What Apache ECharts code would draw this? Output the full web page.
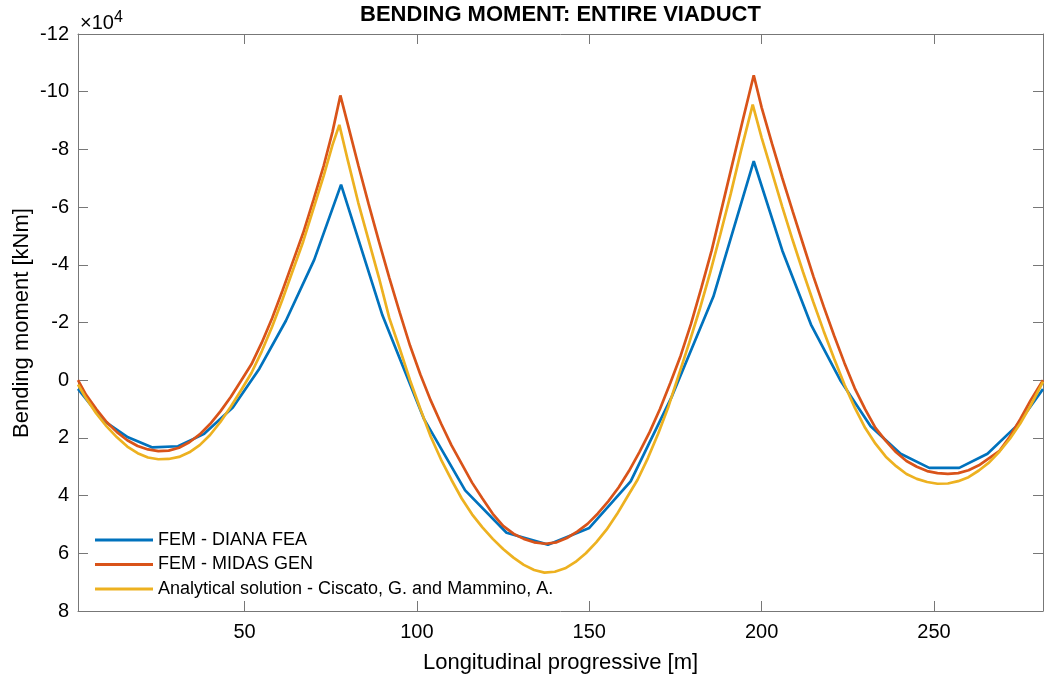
<!DOCTYPE html>
<html>
<head>
<meta charset="utf-8">
<script src="https://cdn.jsdelivr.net/npm/echarts@6/dist/echarts.min.js"></script>
<style>
html,body{margin:0;padding:0;background:#fff;}
#chart{width:1044px;height:676px;}
</style>
</head>
<body>
<div id="chart"></div>
<script>
// ---- Data (bending moment in kNm, position in m) ----
const dianaX = [1.7, 9.0, 16.2, 23.3, 30.7, 38.3, 46.6, 54.3, 62.0, 70.2, 78.0, 90.0, 102.0, 114.0, 126.0, 138.0, 150.0, 162.0, 174.0, 186.0, 197.7, 206.0, 214.3, 222.8, 231.6, 240.3, 248.6, 257.3, 265.5, 273.8, 281.6];
const dianaM = [3000, 13900, 19800, 23300, 22900, 18600, 9500, -4000, -20600, -41700, -67800, -22500, 13300, 38200, 52900, 57000, 51200, 35100, 5500, -29000, -75900, -44900, -19300, 0, 16000, 25500, 30400, 30400, 25500, 16000, 3100];

const midasX = [1.7, 4, 7, 10, 13, 16, 19, 22, 25, 28, 31, 34, 37, 40, 43, 46, 49, 52, 55, 58, 61, 64, 67, 70, 73, 75.5, 77.8,
  80, 83, 86, 89, 92, 95, 98, 101, 104, 107, 110, 113, 116, 119, 122, 125, 128, 131, 134, 137.3, 140.5, 143.5, 146.5, 149.5, 152.5, 155.5, 158.5, 161.5, 164.5, 167.5, 170.5, 173.5, 176.5, 179.5, 182.5, 185.5, 188.5, 191.5, 194.5, 197.7,
  200, 203, 206, 209, 212, 215, 218, 221, 224, 227, 230, 233, 236, 239, 242, 245, 248, 251, 254, 257, 260, 263, 266, 269, 272, 275, 278, 281.6];
const midasM = [0, 5000, 10000, 14500, 18000, 20800, 22800, 24000, 24600, 24400, 23400, 21500, 18800, 15200, 10800, 5800, 200, -5500, -13000, -21500, -31000, -41000, -51000, -62500, -74500, -86000, -98700,
  -88500, -74500, -61000, -48000, -35500, -23500, -12000, -2000, 7000, 15000, 22500, 29000, 35500, 41000, 46300, 50500, 53200, 55000, 56200, 56700, 56200, 54700, 52500, 49800, 46200, 42000, 37200, 31500, 25000, 18000, 10000, 1000, -8500, -19500, -32000, -45000, -60000, -75000, -90000, -105700,
  -94500, -82000, -70000, -58500, -47200, -36000, -25500, -15500, -6000, 2800, 10000, 16500, 21000, 25000, 28000, 30000, 31500, 32200, 32500, 32200, 31200, 29500, 27000, 24500, 19500, 13500, 7000, 0];

const analyticalX = [1.7, 4, 7, 10, 13, 16, 19, 22, 25, 28, 31, 34, 37, 40, 43, 46, 49, 52, 55, 58, 61, 64, 67, 70, 73, 75.5, 77.5,
  80, 83, 86, 89, 92, 95, 98, 101, 104, 107, 110, 113, 116, 119, 122, 125, 128, 131, 134, 137, 140, 143, 146, 149, 152, 155, 158, 161, 164, 167, 170, 173, 176, 179, 182, 185, 188, 191, 194, 197.4,
  200, 203, 206, 209, 212, 215, 218, 221, 224, 227, 230, 233, 236, 239, 242, 245, 248, 251, 254, 257, 260, 263, 266, 269, 272, 275, 278, 281.6];
const analyticalM = [1500, 6200, 11500, 16000, 19800, 23000, 25300, 26800, 27400, 27300, 26600, 25000, 22500, 19000, 14500, 9200, 3500, -2500, -10000, -18500, -28000, -38000, -48000, -59500, -71000, -81500, -88500,
  -76000, -61500, -48500, -35500, -21500, -11000, 0, 10000, 19500, 27500, 34500, 41000, 46500, 51000, 55000, 58500, 61500, 64000, 65800, 66700, 66400, 65200, 63000, 60000, 56200, 51800, 46500, 40500, 34500, 27000, 18500, 9000, -2000, -13000, -24500, -37000, -50500, -64500, -79500, -95500,
  -84000, -72000, -60000, -48500, -37500, -27000, -17000, -7500, 1500, 9500, 16500, 22000, 26500, 29800, 32500, 34200, 35300, 35900, 35800, 35000, 33600, 31300, 28500, 24700, 20300, 15000, 8800, 500];

const seriesNames = ['FEM - DIANA FEA', 'FEM - MIDAS GEN', 'Analytical solution - Ciscato, G. and Mammino, A.'];
const yTicks = [-120000, -100000, -80000, -60000, -40000, -20000, 0, 20000, 40000, 60000, 80000];

function pairs(xs, ys) { return xs.map((x, i) => [x, ys[i]]); }

const FONT = '"Liberation Sans", Arial, Helvetica, sans-serif';
const axisColor = '#777777';
const xMin = 1.7, xMax = 281.6;

const chart = echarts.init(document.getElementById('chart'), null, {renderer: 'canvas'});
const xCommon = {
  type: 'value', min: xMin, max: xMax, splitNumber: 5,
  axisLine: {show: true, onZero: false, lineStyle: {color: axisColor, width: 1}},
  axisTick: {show: true, inside: true, length: 10, lineStyle: {color: axisColor}},
  splitLine: {show: false}
};
const yCommon = {
  type: 'value', inverse: true, min: yTicks[0], max: yTicks[yTicks.length - 1], interval: 20000,
  axisLine: {show: true, onZero: false, lineStyle: {color: axisColor, width: 1}},
  axisTick: {show: true, inside: true, length: 10, lineStyle: {color: axisColor}},
  splitLine: {show: false}
};

chart.setOption({
  animation: false,
  backgroundColor: '#ffffff',
  grid: {left: 78, top: 34, right: 1, bottom: 65, containLabel: false},
  xAxis: [
    Object.assign({}, xCommon, {
      position: 'bottom',
      axisLabel: {show: true, showMinLabel: false, showMaxLabel: false, margin: 11, color: '#000', fontFamily: FONT, fontSize: 20,
        formatter: v => String(Math.round(v))}
    }),
    Object.assign({}, xCommon, {position: 'top', axisLabel: {show: false}})
  ],
  yAxis: [
    Object.assign({}, yCommon, {
      position: 'left',
      axisLabel: {show: true, margin: 9, color: '#000', fontFamily: FONT, fontSize: 20,
        formatter: v => String(v / 10000)}
    }),
    Object.assign({}, yCommon, {position: 'right', axisLabel: {show: false}})
  ],
  legend: {
    show: true, orient: 'vertical', left: 95, top: 531, padding: 0,
    icon: 'rect', itemWidth: 58, itemHeight: 3, itemGap: 6.5,
    textStyle: {color: '#000', fontFamily: FONT, fontSize: 18, lineHeight: 18},
    data: seriesNames
  },
  color: ['#0072BD', '#D95319', '#EDB120'],
  series: [
    {name: seriesNames[0], type: 'line', data: pairs(dianaX, dianaM), showSymbol: false, lineStyle: {width: 2.7, color: '#0072BD'}, itemStyle: {color: '#0072BD'}},
    {name: seriesNames[1], type: 'line', data: pairs(midasX, midasM), showSymbol: false, lineStyle: {width: 2.7, color: '#D95319'}, itemStyle: {color: '#D95319'}},
    {name: seriesNames[2], type: 'line', data: pairs(analyticalX, analyticalM), showSymbol: false, lineStyle: {width: 2.7, color: '#EDB120'}, itemStyle: {color: '#EDB120'}}
  ],
  graphic: [
    {type: 'text', x: 560.5, y: 15, style: {text: 'BENDING MOMENT: ENTIRE VIADUCT', font: 'bold 22px ' + FONT, fill: '#000', align: 'center', verticalAlign: 'middle'}},
    {type: 'text', x: 80, y: 23.5, style: {text: '\u00d710', font: '20px ' + FONT, fill: '#000', align: 'left', verticalAlign: 'middle'}},
    {type: 'text', x: 114, y: 18, style: {text: '4', font: '16px ' + FONT, fill: '#000', align: 'left', verticalAlign: 'middle'}},
    {type: 'text', x: 22, y: 323, rotation: Math.PI / 2, style: {text: 'Bending moment [kNm]', font: '22px ' + FONT, fill: '#000', align: 'center', verticalAlign: 'middle'}},
    {type: 'text', x: 560.5, y: 663, style: {text: 'Longitudinal progressive [m]', font: '22px ' + FONT, fill: '#000', align: 'center', verticalAlign: 'middle'}}
  ]
});
</script>
</body>
</html>
